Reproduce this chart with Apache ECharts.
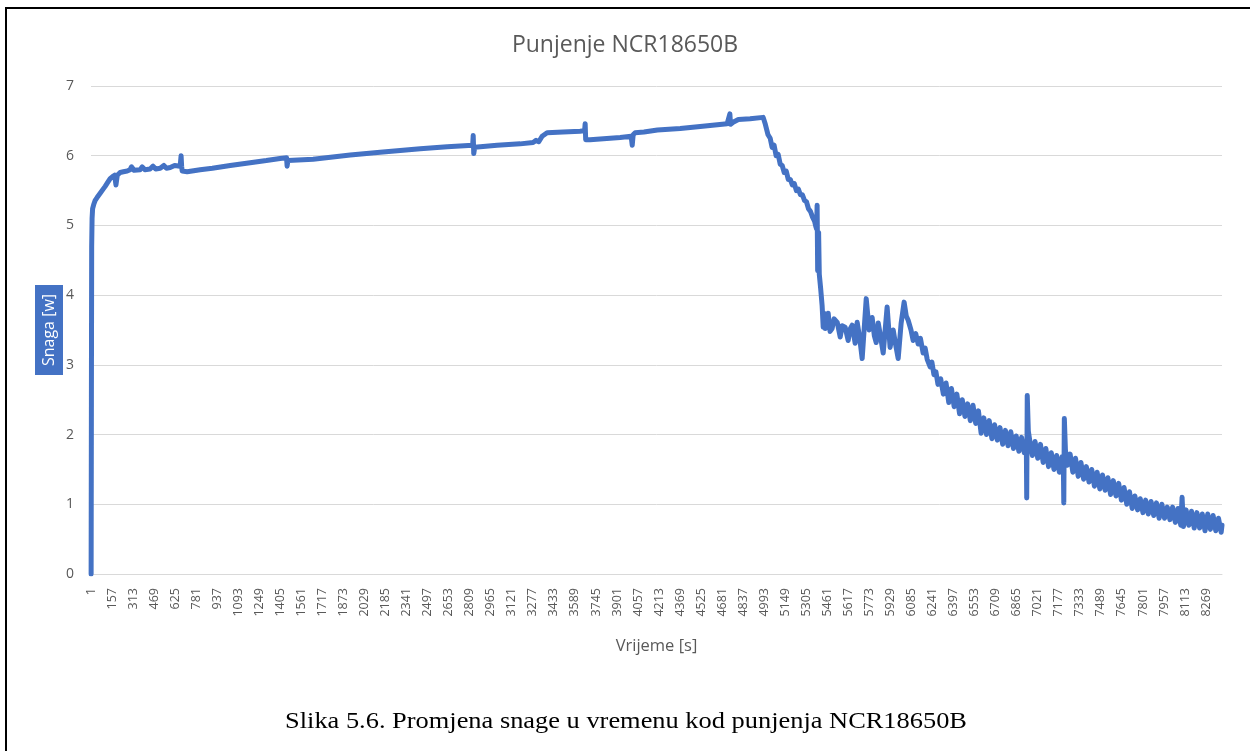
<!DOCTYPE html>
<html>
<head>
<meta charset="utf-8">
<script src="https://cdn.jsdelivr.net/npm/echarts@6/dist/echarts.min.js"></script>
<style>
  html, body { margin: 0; padding: 0; background: #fff; }
  #main { width: 1250px; height: 751px; }
</style>
</head>
<body>
<div id="main"></div>
<script>
// vrijeme [s] i snaga [W], ocitano sa slike
var seconds = [
  1, 3, 5, 8, 12, 20, 31, 45, 68, 90, 105, 125, 142, 160, 175, 185, 195, 216, 240, 268,
  290, 300, 320, 364, 380, 400, 438, 460, 480, 513, 540, 560, 587, 620, 661, 668, 672, 676, 713,
  809, 900, 1032, 1180, 1300, 1402, 1450, 1454, 1460, 1647, 1922, 2144, 2441, 2641, 2830, 2834, 2838, 2845,
  3011, 3182, 3278, 3300, 3320, 3345, 3382, 3500, 3627, 3660, 3664, 3668, 3700, 3924, 4005, 4013, 4020, 4035,
  4100, 4200, 4369, 4517, 4717, 4737, 4742, 4761, 4800, 4887, 4984,
  5000, 5020, 5036, 5050, 5065, 5080, 5095, 5110, 5125, 5140, 5155, 5170, 5185, 5200, 5215, 5230, 5245, 5260,
  5275, 5290, 5305, 5320, 5335, 5350, 5365, 5375, 5380, 5384, 5388, 5395, 5400, 5410, 5421,
  5429, 5436, 5444, 5455, 5466, 5480, 5495, 5510, 5533, 5555, 5570, 5592, 5614, 5630, 5644, 5666, 5681, 5700,
  5718, 5748, 5770, 5792, 5808, 5822, 5837, 5855, 5874, 5903, 5925, 5948, 5965, 5985, 6007, 6029, 6045, 6059,
  6080, 6096, 6115, 6133, 6150, 6170, 6185, 6200, 6222, 6235, 6250, 6265, 6280,
  6300, 6320, 6340, 6360, 6380, 6400, 6420, 6440, 6460, 6480, 6500, 6520, 6540, 6560, 6580, 6600, 6620, 6640,
  6660, 6680, 6700, 6720, 6740, 6760, 6780, 6800, 6820, 6840, 6860, 6880, 6900, 6920, 6935, 6938, 6942, 6950,
  6965, 6980, 7000, 7020, 7040, 7060, 7080, 7100, 7120, 7140, 7160, 7180, 7200, 7210, 7213, 7217, 7225, 7240,
  7260, 7280, 7300, 7320, 7340, 7360, 7380, 7400, 7420, 7440, 7460, 7480, 7500, 7520, 7540, 7560, 7580, 7600,
  7620, 7640, 7660, 7680, 7700, 7720, 7740, 7760, 7780, 7800, 7820, 7840, 7860, 7880, 7900, 7920, 7940, 7960,
  7980, 8000, 8020, 8040, 8060, 8080, 8090, 8100, 8120, 8140, 8160, 8180, 8200, 8220, 8240, 8260, 8280, 8300,
  8320, 8340, 8360, 8380, 8386
];
var power = [
  0.0, 2.5, 4.7, 5.1, 5.24, 5.3, 5.36, 5.4, 5.46, 5.52, 5.56, 5.62, 5.67, 5.7, 5.72, 5.58, 5.72, 5.76, 5.77, 5.78,
  5.8, 5.84, 5.79, 5.8, 5.84, 5.8, 5.81, 5.85, 5.81, 5.82, 5.86, 5.82, 5.83, 5.86, 5.85, 6.0, 5.85, 5.78, 5.77,
  5.8, 5.82, 5.86, 5.9, 5.93, 5.96, 5.97, 5.85, 5.93, 5.95, 6.01, 6.05, 6.1, 6.13, 6.15, 6.29, 6.03, 6.12,
  6.15, 6.17, 6.19, 6.22, 6.2, 6.28, 6.33, 6.34, 6.35, 6.36, 6.46, 6.23, 6.23, 6.26, 6.28, 6.15, 6.3, 6.33,
  6.34, 6.37, 6.39, 6.42, 6.46, 6.6, 6.45, 6.48, 6.52, 6.53, 6.55,
  6.45, 6.3, 6.25, 6.12, 6.15, 6.0, 6.02, 5.88, 5.86, 5.76, 5.78, 5.66, 5.66, 5.58, 5.6, 5.5, 5.52, 5.44,
  5.44, 5.36, 5.34, 5.24, 5.2, 5.12, 5.06, 4.98, 4.95, 5.29, 4.35, 4.9, 4.3, 4.1, 3.85,
  3.54, 3.74, 3.52, 3.7, 3.74, 3.48, 3.52, 3.66, 3.61, 3.4, 3.56, 3.54, 3.35, 3.52, 3.57, 3.31, 3.61, 3.38,
  3.09, 3.95, 3.5, 3.68, 3.42, 3.32, 3.6, 3.4, 3.17, 3.83, 3.25, 3.5, 3.3, 3.09, 3.6, 3.9, 3.7, 3.64,
  3.5, 3.35, 3.45, 3.3, 3.38, 3.17, 3.24, 3.08, 2.97, 3.04, 2.86, 2.9, 2.72,
  2.8, 2.58, 2.74, 2.46, 2.66, 2.4, 2.58, 2.3, 2.5, 2.26, 2.44, 2.2, 2.42, 2.16, 2.34, 2.02, 2.24, 2.0,
  2.2, 1.94, 2.14, 1.92, 2.1, 1.86, 2.06, 1.84, 2.04, 1.8, 1.98, 1.76, 1.96, 1.74, 1.9, 1.09, 2.56, 2.05,
  1.86, 1.7, 1.9, 1.66, 1.86, 1.6, 1.8, 1.54, 1.74, 1.5, 1.7, 1.46, 1.68, 1.5, 1.02, 2.23, 1.78, 1.56,
  1.72, 1.46, 1.66, 1.4, 1.6, 1.36, 1.54, 1.32, 1.5, 1.26, 1.46, 1.22, 1.42, 1.2, 1.38, 1.14, 1.34, 1.12,
  1.3, 1.06, 1.24, 1.0, 1.18, 0.94, 1.12, 0.92, 1.08, 0.88, 1.06, 0.86, 1.04, 0.84, 1.02, 0.8, 1.0, 0.8,
  0.96, 0.78, 0.96, 0.74, 0.94, 0.7, 1.1, 0.68, 0.92, 0.7, 0.9, 0.66, 0.88, 0.66, 0.86, 0.62, 0.86, 0.64,
  0.84, 0.62, 0.8, 0.6, 0.7
];
var yTicks = [0, 1, 2, 3, 4, 5, 6, 7];
var labelStep = 156;

var gray = '#595959';
var points = seconds.map(function (s, i) { return [s, power[i]]; });

var myChart = echarts.init(document.getElementById('main'));
var option = {
  animation: false,
  backgroundColor: '#fff',
  title: {
    text: 'Punjenje NCR18650B',
    left: 'center',
    top: 29,
    textStyle: { fontFamily: 'Open Sans', fontSize: 23, fontWeight: 'normal', color: gray }
  },
  grid: { left: 91, right: 28, top: 86, bottom: 177 },
  xAxis: {
    type: 'value',
    min: 0,
    max: 8386,
    interval: labelStep,
    name: 'Vrijeme [s]',
    nameLocation: 'middle',
    nameGap: 64,
    nameMoveOverlap: false,
    nameTextStyle: { fontFamily: 'Open Sans', fontSize: 16.5, color: gray },
    axisLine: { lineStyle: { color: '#d9d9d9', width: 1 } },
    axisTick: { show: false },
    splitLine: { show: false },
    axisLabel: {
      rotate: 90,
      margin: 14,
      showMaxLabel: false,
      fontFamily: 'Open Sans',
      fontSize: 12.5,
      color: gray,
      formatter: function (v) { return v % labelStep === 0 ? String(v + 1) : ''; }
    }
  },
  yAxis: {
    type: 'value',
    min: yTicks[0],
    max: yTicks[yTicks.length - 1],
    interval: 1,
    name: 'Snaga [w]',
    nameLocation: 'middle',
    nameRotate: 90,
    nameGap: 28,
    nameMoveOverlap: false,
    nameTextStyle: {
      fontFamily: 'Open Sans', fontSize: 16, color: '#fff',
      backgroundColor: '#4472C4', padding: [6, 9, 6, 9]
    },
    axisLine: { show: false },
    axisTick: { show: false },
    splitLine: { lineStyle: { color: '#d9d9d9', width: 1 } },
    axisLabel: { margin: 17, fontFamily: 'Open Sans', fontSize: 14, color: gray }
  },
  series: [{
    type: 'line',
    data: points,
    showSymbol: false,
    sampling: 'none',
    lineStyle: { color: '#4472C4', width: 5, join: 'round', cap: 'round' }
  }],
  graphic: [
    {
      type: 'polyline',
      shape: { points: [[6, 751], [6, 8], [1250, 8]] },
      style: { stroke: '#000', lineWidth: 2, fill: null }
    },
    {
      type: 'text',
      x: 626,
      y: 722,
      scaleX: 1.1,
      style: {
        text: 'Slika 5.6. Promjena snage u vremenu kod punjenja NCR18650B',
        fontFamily: 'Liberation Serif',
        fontSize: 24,
        fill: '#000',
        align: 'center',
        verticalAlign: 'middle'
      }
    }
  ]
};
myChart.setOption(option);
</script>
</body>
</html>
